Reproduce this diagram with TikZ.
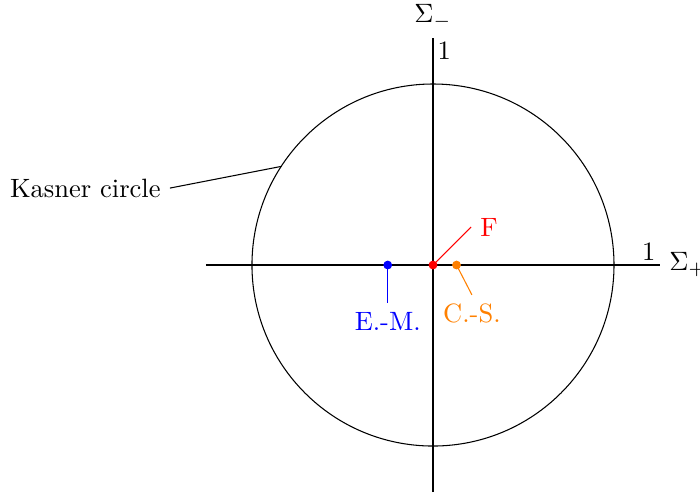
\documentclass[tikz,border=0pt]{standalone}
\begin{document}
\begin{tikzpicture}[scale=2.4]
			\useasboundingbox (-2.392,-1.260) rectangle (1.475,1.464);
			\draw (-1.254,0) -- (1.254,0) node[right] (sp) {$\Sigma_+$}
				node[above left, inner sep=1.5pt] (xone) {$1$};
			\draw (0,-1.254) -- (0,1.254) node[above] (sm) {$\Sigma_-$}
				node[below right, inner sep=1.5pt] (yone) {$1$};
			\draw (0,0) circle (1);
			\coordinate (kc) at (147:1);
			\coordinate (kcend) at (-1.453,0.425);
			\draw (kc) -- (kcend) node[left] (kclabel) {Kasner circle};
			\coordinate (F) at (0,0);
			\coordinate (EM) at (-0.25,0);
			\coordinate (CS) at (0.13,0);
			\coordinate (Fend) at (0.21,0.21);
			\coordinate (EMend) at (-0.25,-0.21);
			\coordinate (CSend) at (0.215,-0.165);
			\draw[red] (F) -- (Fend) node[right] (Flabel) {F};
			\draw[blue] (EM) -- (EMend) node[below] (EMlabel) {E.-M.};
			\draw[orange] (CS) -- (CSend) node[below] (CSlabel) {C.-S.};
			\filldraw[blue] (EM) circle (0.6pt);
			\filldraw[orange] (CS) circle (0.6pt);
			\filldraw[red] (F) circle (0.6pt);
		\end{tikzpicture}
\end{document}
